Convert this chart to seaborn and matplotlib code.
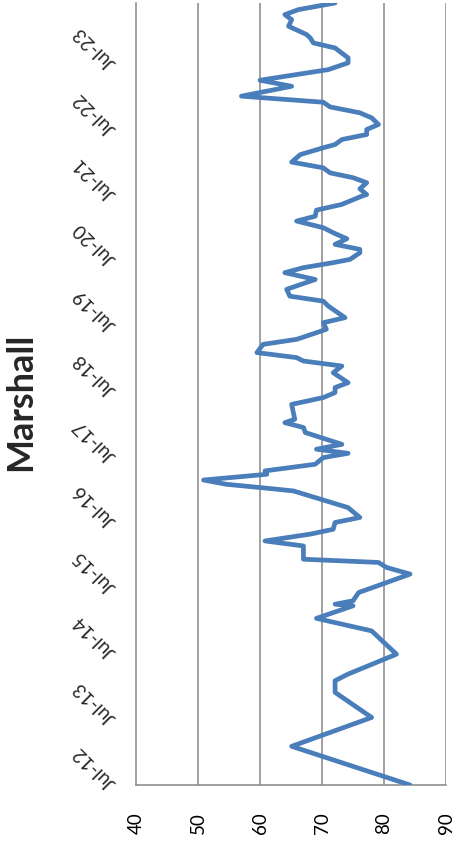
import matplotlib
matplotlib.use("Agg")
import matplotlib.pyplot as plt
import pandas as pd
import seaborn as sns

# Survey dates and readings for Marshall
dates = [
    "2012-07-01", "2013-02-02", "2013-07-13", "2013-11-30", "2014-02-03",
    "2014-03-12", "2014-07-01", "2014-11-08", "2015-01-17", "2015-03-28",
    "2015-04-06", "2015-04-25", "2015-06-10", "2015-09-21", "2015-10-28",
    "2015-11-25", "2015-12-13", "2016-02-25", "2016-03-24", "2016-05-01",
    "2016-05-28", "2016-07-05", "2016-08-02", "2016-09-26", "2016-12-28",
    "2017-01-16", "2017-02-03", "2017-02-27", "2017-03-31", "2017-04-19",
    "2017-05-26", "2017-07-02", "2017-07-26", "2017-08-18", "2017-09-14",
    "2017-11-19", "2017-12-17", "2018-01-13", "2018-02-01", "2018-04-25",
    "2018-06-02", "2018-06-30", "2018-07-28", "2018-08-24", "2018-10-19",
    "2018-11-25", "2018-12-23", "2019-01-11", "2019-02-08", "2019-03-26",
    "2019-04-23", "2019-05-30", "2019-06-18", "2019-07-25", "2019-08-22",
    "2019-10-26", "2019-11-22", "2019-12-20", "2020-01-27", "2020-03-22",
    "2020-04-29", "2020-05-27", "2020-06-24", "2020-07-12", "2020-08-18",
    "2020-09-06", "2020-10-04", "2020-11-04", "2020-12-08", "2021-01-05",
    "2021-02-11", "2021-03-10", "2021-04-13", "2021-05-15", "2021-06-30",
    "2021-07-09", "2021-08-10", "2021-09-13", "2021-10-11", "2021-11-07",
    "2021-12-05", "2022-01-06", "2022-02-17", "2022-03-27", "2022-04-14",
    "2022-05-12", "2022-06-09", "2022-07-07", "2022-08-04", "2022-09-10",
    "2022-10-08", "2022-11-10", "2022-12-06", "2023-01-09", "2023-03-05",
    "2023-04-08", "2023-06-06", "2023-07-14", "2023-08-11", "2023-10-05",
    "2023-11-02", "2023-11-30", "2023-12-19", "2024-02-03", "2024-03-11",
    "2024-04-08", "2024-05-06", "2024-06-12",
]
values = [
    84.2, 65.1, 78.0, 72.1, 72.1,
    74.2, 82.0, 78.0, 69.1, 75.0,
    72.1, 75.0, 75.9, 84.2, 80.4,
    79.1, 67.0, 67.0, 60.8, 68.1,
    71.8, 72.1, 76.1, 74.2, 65.4,
    60.0, 54.6, 50.9, 61.1, 60.8,
    68.9, 70.2, 74.2, 69.1, 73.2,
    67.3, 67.0, 64.0, 65.6, 65.1,
    70.2, 72.1, 72.1, 74.2, 71.8,
    73.2, 67.0, 65.9, 59.5, 60.5,
    65.9, 69.1, 70.7, 70.2, 73.7,
    71.0, 70.2, 64.8, 64.3, 68.9,
    64.0, 67.0, 71.8, 74.5, 76.1,
    76.1, 72.1, 74.0, 71.8, 70.2,
    65.9, 68.9, 69.1, 73.2, 76.4,
    77.2, 76.1, 77.2, 75.0, 71.3,
    70.2, 65.1, 66.5, 70.2, 72.1,
    73.2, 77.2, 77.2, 79.1, 78.0,
    76.1, 71.3, 70.2, 57.0, 65.1,
    60.0, 71.0, 74.2, 74.2, 72.1,
    68.6, 68.1, 67.5, 64.6, 65.1,
    64.0, 66.2, 72.1,
]

date_ticks = ["2012-07-01", "2013-07-01", "2014-07-01", "2015-07-01",
              "2016-07-01", "2017-07-01", "2018-07-01", "2019-07-01",
              "2020-07-01", "2021-07-01", "2022-07-01", "2023-07-01"]
date_tick_labels = ["Jul-12", "Jul-13", "Jul-14", "Jul-15", "Jul-16", "Jul-17",
                    "Jul-18", "Jul-19", "Jul-20", "Jul-21", "Jul-22", "Jul-23"]
value_ticks = [40, 50, 60, 70, 80, 90]
title = "Marshall"

df = pd.DataFrame({"date": pd.to_datetime(dates), "value": values})

sns.set_style("white")
plt.rcParams["font.family"] = ["Lato", "DejaVu Sans"]

fig = plt.figure(figsize=(4.53, 8.45), dpi=100)
ax = fig.add_axes([0.3002, 0.0698, 0.6845, 0.9255])

grid_col = "#868686"
sns.lineplot(data=df, x="value", y="date", sort=False, estimator=None,
             orient="y", color="#4A7EBB", linewidth=3.4, ax=ax,
             solid_capstyle="round", solid_joinstyle="round", zorder=3)

ax.set_xlim(40, 90)
ax.set_ylim(df["date"].min(), df["date"].max())
ax.set_xticks(value_ticks)
ax.set_xticklabels([str(v) for v in value_ticks], rotation=90, fontsize=13.5,
                   color="#000000")
ax.set_yticks(pd.to_datetime(date_ticks))
ax.set_yticklabels(date_tick_labels, fontsize=13.5, rotation=135,
                   rotation_mode="anchor", ha="left", va="center")
ax.set_xlabel("")
ax.set_ylabel("")

for v in value_ticks[1:]:
    ax.axvline(v, color=grid_col, linewidth=1.1, zorder=1)

for side in ["top", "right"]:
    ax.spines[side].set_visible(False)
for side in ["left", "bottom"]:
    ax.spines[side].set_color(grid_col)
    ax.spines[side].set_linewidth(1.1)

ax.tick_params(axis="x", direction="out", length=5, width=1.1, color=grid_col,
               pad=14)
ax.tick_params(axis="y", direction="out", length=5, width=1.1, color=grid_col,
               pad=11.5)

fig.text(0.046, 0.525, title, rotation=90, fontsize=26, fontweight="bold",
         ha="center", va="center")

fig.savefig("out.png", dpi=100)
